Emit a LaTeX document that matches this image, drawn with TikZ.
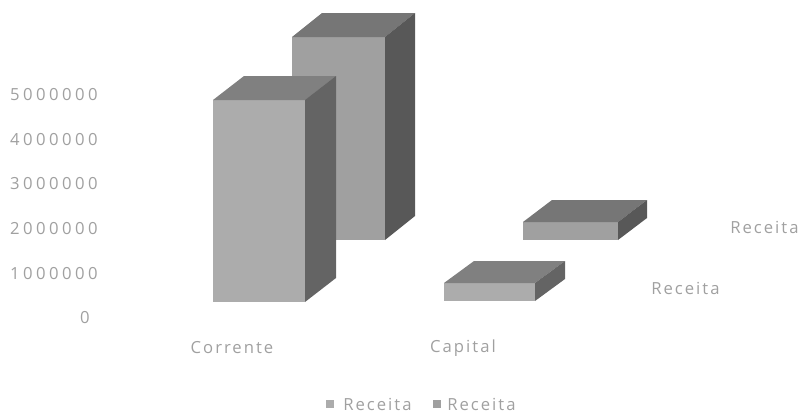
\documentclass[tikz,border=0pt]{standalone}
\usepackage{fontspec}
\newfontfamily\chartfont[LetterSpace=12]{Open Sans}
\newfontfamily\tickfont[LetterSpace=21]{Open Sans}
\definecolor{labelgray}{RGB}{160,160,160}
\definecolor{frontA}{RGB}{172,172,172}
\definecolor{topA}{RGB}{128,128,128}
\definecolor{sideA}{RGB}{100,100,100}
\definecolor{frontB}{RGB}{160,160,160}
\definecolor{topB}{RGB}{118,118,118}
\definecolor{sideB}{RGB}{88,88,88}

% box of a 3d bar: left, right, top, bottom, depth x, depth y, colour set
\newcommand{\cuboid}[7]{
  \fill[front#7] (#1,#3) rectangle (#2,#4);
  \fill[top#7] (#1,#3) -- (#2,#3) -- ++(#5,#6) -- ++({#1-#2},0) -- cycle;
  \fill[side#7] (#2,#3) -- ++(#5,#6) -- ++(0,{#4-#3}) -- (#2,#4) -- cycle;
}

\tikzset{
  lbl/.style={font=\chartfont\fontsize{12.5}{14}\selectfont, text=labelgray, inner sep=0pt},
  tick/.style={lbl, font=\tickfont\fontsize{12.5}{14}\selectfont, anchor=east},
  key/.style={minimum size=6pt, inner sep=0pt}
}

\begin{document}
\begin{tikzpicture}[x=0.75pt, y=-0.75pt]
        \useasboundingbox (0,0) rectangle (801,414);
        % bars, back series first
        \cuboid{292}{385}{37}{240}{30}{-24}{B}
        \cuboid{523}{618}{222}{240}{29}{-22}{B}
        \cuboid{213}{305}{100}{302}{31}{-24}{A}
        \cuboid{444}{535}{283}{301}{30}{-22}{A}
        % value axis
        \node[tick] (tick0) at (90,318) {0};
        \foreach \v [count=\i] in {1000000,2000000,3000000,4000000,5000000}
            \node[tick] (tick\i) at (98,{318-44.7*\i}) {\v};
        % categories and series
        \node[lbl] (corrente) at (232,348) {Corrente};
        \node[lbl] (capital) at (463,348) {Capital};
        \node[lbl, anchor=west] (serieB) at (730,227) {Receita};
        \node[lbl, anchor=west] (serieA) at (651,288) {Receita};
        % legend
        \node[key, fill=frontA] (keyA) at (330,404) {};
        \node[lbl, anchor=west] (legA) at (343,404) {Receita};
        \node[key, fill=frontB] (keyB) at (437,404) {};
        \node[lbl, anchor=west] (legB) at (447,404) {Receita};
\end{tikzpicture}
\end{document}
